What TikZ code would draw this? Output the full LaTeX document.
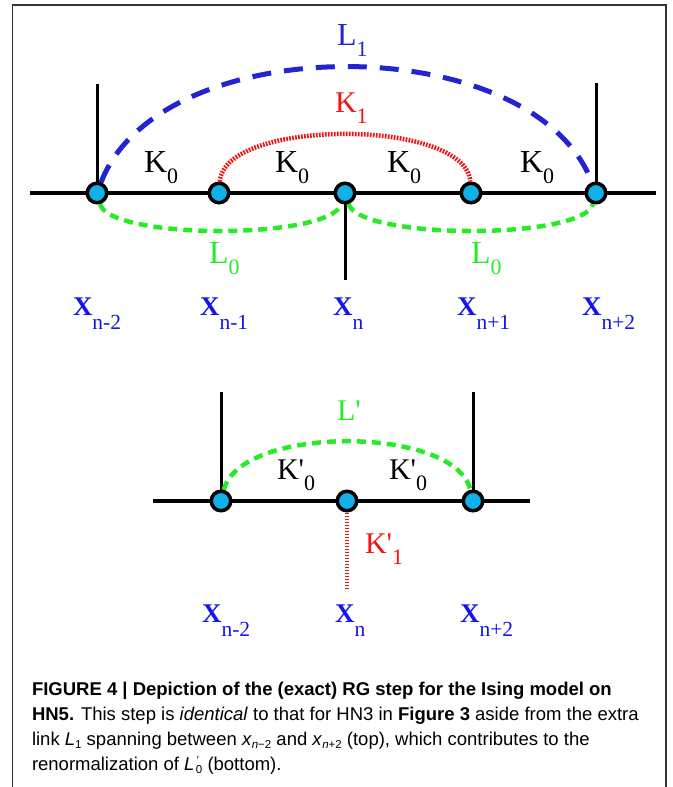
\documentclass[tikz,border=0pt]{standalone}
\usepackage{fontspec}
\setmainfont{Liberation Serif}
\newfontfamily\capfont{Liberation Sans}
\usetikzlibrary{backgrounds}
\definecolor{nodecyan}{RGB}{16,176,232}
\definecolor{arcblue}{RGB}{35,35,210}
\definecolor{labblue}{RGB}{20,20,240}
\definecolor{arcgreen}{RGB}{40,235,40}
\definecolor{arcred}{RGB}{240,20,20}
\newcommand{\lab}[3]{{\fontsize{#1}{#1}\selectfont #2}\raisebox{-11pt}{\fontsize{22}{22}\selectfont #3}}
\newcommand{\plab}[3]{{\fontsize{#1}{#1}\selectfont #2\textquotesingle}\raisebox{-11pt}{\fontsize{22}{22}\selectfont #3}}
\newcommand{\xlab}[1]{{\fontsize{27}{27}\selectfont\bfseries X}\raisebox{-14pt}{\fontsize{21.5}{21.5}\selectfont #1}}
\newcommand{\csub}[1]{\raisebox{-3.5pt}{\fontsize{11.5}{11.5}\selectfont #1}}
\begin{document}
\begin{tikzpicture}[x=1pt,y=-1pt,
 site/.style={circle,draw=black,fill=nodecyan,line width=3.5pt,minimum size=19.5pt,inner sep=0pt},
 txt/.style={anchor=base west,inner sep=0pt,outer sep=0pt},
 bond/.style={line width=3.5pt,draw=black},
 stub/.style={line width=3pt,draw=black},
 bluedash/.style={draw=arcblue,line width=5pt,dash pattern=on 19pt off 13pt},
 greendash/.style={draw=arcgreen,line width=4.5pt,dash pattern=on 9pt off 6pt},
 reddot/.style={draw=arcred,line width=4.5pt,dash pattern=on 1.7pt off 1.3pt},
 frame/.style={draw=black!80,line width=1.2pt},
 captxt/.style={txt,font=\capfont\fontsize{18.5}{18.5}\selectfont}]
\useasboundingbox (0,0) rectangle (672,787);
\draw[frame] (12.5,787) -- (12.5,5) -- (666,5) -- (666,787);

% ---------- top diagram ----------
\node[site] (a1) at (97,193) {};
\node[site] (a2) at (219,193) {};
\node[site] (a3) at (345,193) {};
\node[site] (a4) at (471,193) {};
\node[site] (a5) at (596,193) {};
\coordinate (le) at (30,193);
\coordinate (re) at (656,193);
\coordinate (t1) at (97,84);
\coordinate (t5) at (596,83);
\coordinate (d3) at (345,280);

\begin{scope}[on background layer]
\draw[bond] (le) -- (re);
\draw[stub] (a1.center) -- (t1);
\draw[stub] (a5.center) -- (t5);
\draw[stub] (a3.center) -- (d3);
\draw[bluedash] (a1) .. controls +(63,-165) and +(-63,-165) .. (a5);
\draw[reddot] (a2) .. controls +(5,-75) and +(-5,-75) .. (a4);
\draw[greendash] (a1) .. controls +(13,47) and +(-15,47) .. (a3);
\draw[greendash] (a3) .. controls +(15,47) and +(-13,47) .. (a5);
\end{scope}

\node[txt,text=arcblue] (l1) at (337,45) {\lab{32}{L}{1}};
\node[txt,text=arcred] (k1) at (335,112) {\lab{30}{K}{1}};
\node[txt] (k01) at (144,172) {\lab{32}{K}{0}};
\node[txt] (k02) at (275,172) {\lab{32}{K}{0}};
\node[txt] (k03) at (387,172) {\lab{32}{K}{0}};
\node[txt] (k04) at (520,172) {\lab{32}{K}{0}};
\node[txt,text=arcgreen] (l01) at (209,263) {\lab{32}{L}{0}};
\node[txt,text=arcgreen] (l02) at (471,263) {\lab{32}{L}{0}};

\node[txt,text=labblue] (x1) at (73,315) {\xlab{n-2}};
\node[txt,text=labblue] (x2) at (200,315) {\xlab{n-1}};
\node[txt,text=labblue] (x3) at (333,315) {\xlab{n}};
\node[txt,text=labblue] (x4) at (457,315) {\xlab{n+1}};
\node[txt,text=labblue] (x5) at (582,315) {\xlab{n+2}};

% ---------- bottom diagram ----------
\node[site] (b1) at (221,501) {};
\node[site] (b2) at (347,501) {};
\node[site] (b3) at (473,501) {};
\coordinate (ble) at (153,501);
\coordinate (bre) at (530,501);
\coordinate (bt1) at (221,392);
\coordinate (bt3) at (473,392);
\coordinate (bd2) at (347,588);

\begin{scope}[on background layer]
\draw[bond] (ble) -- (bre);
\draw[stub] (b1.center) -- (bt1);
\draw[stub] (b3.center) -- (bt3);
\draw[reddot] (b2) -- (bd2);
\draw[greendash] (b1) .. controls +(19,-76) and +(-18,-76) .. (b3);
\end{scope}

\node[txt,text=arcgreen] (lp) at (337,420) {{\fontsize{30}{30}\selectfont L\textquotesingle}};
\node[txt] (kp01) at (277,479) {\plab{30}{K}{0}};
\node[txt] (kp02) at (389,479) {\plab{30}{K}{0}};
\node[txt,text=arcred] (kp1) at (365,553) {\plab{30}{K}{1}};

\node[txt,text=labblue] (y1) at (202,622) {\xlab{n-2}};
\node[txt,text=labblue] (y2) at (335,622) {\xlab{n}};
\node[txt,text=labblue] (y3) at (460,622) {\xlab{n+2}};

% ---------- caption ----------
\node[captxt] (c1) at (32,695) {\bfseries FIGURE 4 | Depiction of the (exact) RG step for the Ising model on};
\node[captxt] (c2) at (32,720) {\textbf{HN5.} This step is \textit{identical} to that for HN3 in \textbf{Figure 3} aside from the extra};
\node[captxt] (c3) at (32,745) {link \textit{L}\csub{1} spanning between \textit{x}\csub{\textit{n}−2} and \textit{x}\csub{\textit{n}+2} (top), which contributes to the};
\node[captxt] (c4) at (32,770) {renormalization of \textit{L}\kern1.5pt\raisebox{-3.5pt}{\fontsize{11.5}{11.5}\selectfont\shortstack[l]{\textit{\textquoteright}\\[-2pt]0}} (bottom).};
\end{tikzpicture}
\end{document}
